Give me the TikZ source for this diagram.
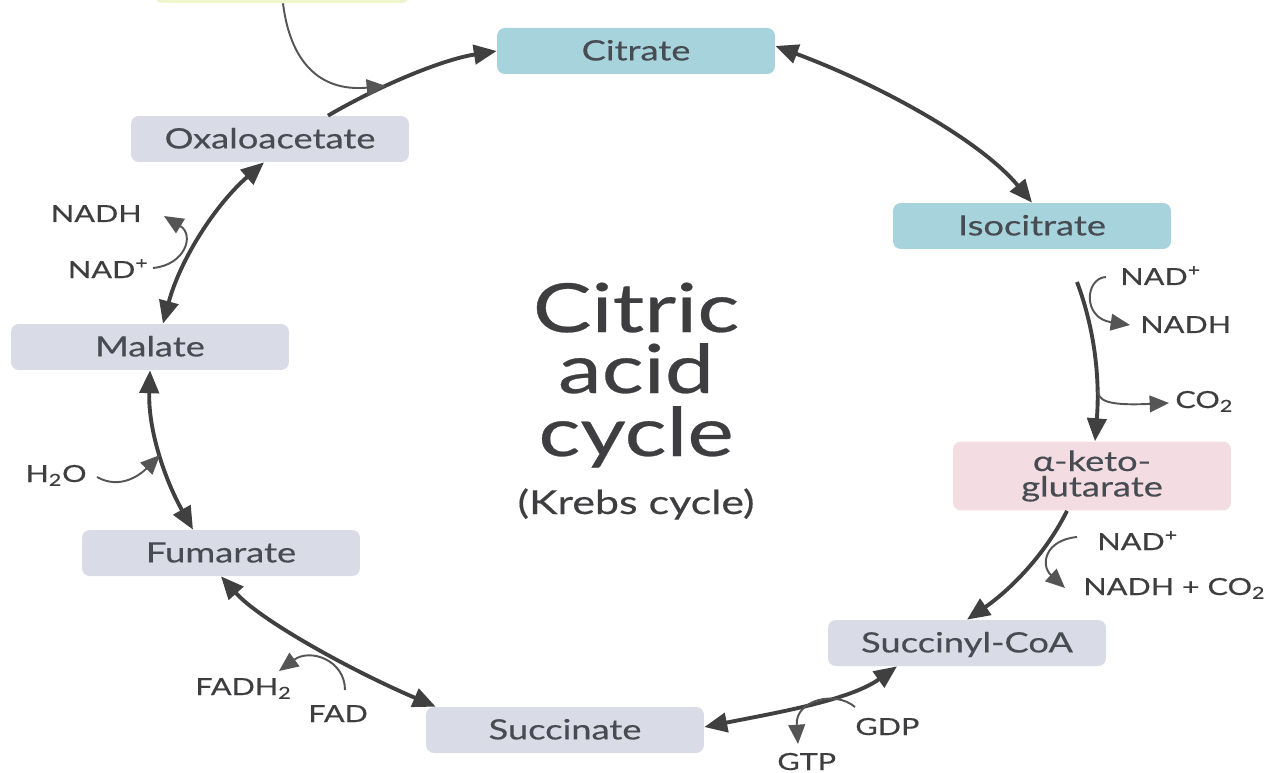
\documentclass[tikz,border=0pt]{standalone}
\usepackage{fontspec}
\setmainfont[FakeStretch=1.3, FakeBold=0.4]{Lato}
\usetikzlibrary{arrows.meta}

\definecolor{tealfill}{HTML}{A7D4DC}
\definecolor{pinkfill}{HTML}{F4DDE2}
\definecolor{grayfill}{HTML}{D9DCE6}
\definecolor{acetylfill}{HTML}{EEF5CB}
\definecolor{boxtext}{HTML}{474B52}
\definecolor{labeltext}{HTML}{3E3E40}
\definecolor{mainline}{HTML}{404040}
\definecolor{sideline}{HTML}{555555}

\newcommand\boxfont{\fontsize{15.9}{14.5}\selectfont}
\newcommand\lblfont{\fontsize{13.4}{16}\selectfont}

\begin{document}
\begin{tikzpicture}[x=0.02cm, y=-0.02cm,
  stage/.style={rounded corners=4.5pt, minimum width=5.56cm, minimum height=0.92cm,
    inner sep=0pt, font=\boxfont, text=boxtext, text height=14pt, text depth=3.3pt},
  cyc/.style={line width=2.2pt, draw=mainline,
    -{Triangle[length=13pt, width=11pt]}},
  cycboth/.style={line width=2.2pt, draw=mainline,
    {Triangle[length=13pt, width=11pt]}-{Triangle[length=13pt, width=11pt]}},
  side/.style={line width=1.1pt, draw=sideline,
    -{Triangle[length=11pt, width=9.5pt]}},
  lbl/.style={font=\lblfont, text=labeltext, inner sep=0pt},
  title/.style={text=labeltext, inner sep=0pt, anchor=base}]

\clip (0,0) rectangle (1280,773);
\fill[white] (0,0) rectangle (1280,773);

% stages of the cycle
\node[stage, fill=acetylfill, minimum width=5.1cm] (acyl) at (282,-20) {};
\node[stage, fill=tealfill] (cit) at (636,51) {Citrate};
\node[stage, fill=tealfill] (iso) at (1032,226) {Isocitrate};
\node[stage, fill=pinkfill, minimum height=1.38cm, align=center,
      text height=, text depth=] (akg) at (1092,476)
      {α-keto-\\glutarate};
\node[stage, fill=grayfill] (sca) at (967,643) {Succinyl-CoA};
\node[stage, fill=grayfill] (suc) at (565,730) {Succinate};
\node[stage, fill=grayfill] (fum) at (221,553) {Fumarate};
\node[stage, fill=grayfill] (mal) at (150,347) {Malate};
\node[stage, fill=grayfill] (oxa) at (270,139) {Oxaloacetate};

% title in the middle
\node[title, font=\fontsize{38.5}{40}\selectfont] (t1) at (636,332) {Citric};
\node[title, font=\fontsize{38.5}{40}\selectfont] (t2) at (636,393) {acid};
\node[title, font=\fontsize{38.5}{40}\selectfont] (t3) at (636,456) {cycle};
\node[title, font=\fontsize{18.8}{22}\selectfont] (t4) at (636,514) {(Krebs cycle)};

% cofactor labels
\node[lbl, anchor=base east] (nadho) at (142,222) {NADH};
\node[lbl, anchor=base east] (nadpo) at (149,278) {NAD\textsuperscript{+}};
\node[lbl, anchor=base east] (water) at (87,482) {H\textsubscript{2}O};
\node[lbl, anchor=base west] (fadh) at (195,695) {FADH\textsubscript{2}};
\node[lbl, anchor=base west] (fad) at (308,722) {FAD};
\node[lbl, anchor=base west] (gtp) at (777,770) {GTP};
\node[lbl, anchor=base west] (gdp) at (855,735) {GDP};
\node[lbl, anchor=base west] (nadhk) at (1083,595) {NADH + CO\textsubscript{2}};
\node[lbl, anchor=base west] (nadpk) at (1097,550) {NAD\textsuperscript{+}};
\node[lbl, anchor=base west] (co2i) at (1175,408) {CO\textsubscript{2}};
\node[lbl, anchor=base west] (nadhi) at (1140,333) {NADH};
\node[lbl, anchor=base west] (nadpi) at (1120,285) {NAD\textsuperscript{+}};

% free ends of the side reactions
\coordinate (acjoin) at (386,86);
\coordinate (isoout) at (1077,282);
\coordinate (co2src) at (1098,390);
\coordinate (h2ojoin) at (160,455);

% main reactions of the cycle
\draw[cyc] ([shift={(58,0)}]oxa.north) .. controls (375,88) and (440,60) .. (cit.west);
\draw[cycboth] ([shift={(0,-5)}]cit.east) .. controls (880,85) and (980,140) .. (iso.north);
\draw[cyc] (isoout) .. controls (1095,330) and (1100,380) .. ([shift={(3,0)}]akg.north);
\draw[cyc] ([shift={(-25,0)}]akg.south) .. controls (1045,555) and (1010,590) .. (sca.north);
\draw[cycboth] ([shift={(-70,0)}]sca.south) .. controls (850,700) and (780,712) .. ([shift={(0,-3)}]suc.east);
\draw[cycboth] (fum.south) .. controls (260,620) and (350,670) .. ([shift={(10,0)}]suc.north west);
\draw[cycboth] ([shift={(-28,0)}]fum.north) .. controls (165,480) and (148,430) .. (mal.south);
\draw[cycboth] ([shift={(13,0)}]mal.north) .. controls (180,260) and (215,205) .. ([shift={(-6,0)}]oxa.south);

% side reactions
\draw[side] ([shift={(1,0)}]acyl.south) .. controls (290,60) and (318,92) .. (acjoin);
\draw[side] ([shift={(-14,-8)}]nadpi.base west) .. controls (1085,278) and (1082,318) .. ([shift={(-10,-8)}]nadhi.base west);
\draw[side] (co2src) .. controls (1098,400) and (1105,406) .. ([shift={(-6,-5)}]co2i.base west);
\draw[side] ([shift={(-20,-13)}]nadpk.base west) .. controls (1045,540) and (1040,565) .. ([shift={(-18,-7)}]nadhk.base west);
\draw[side] ([shift={(0,-28)}]gdp.base west) .. controls (835,690) and (795,700) .. ([shift={(21,-26)}]gtp.base west);
\draw[side] ([shift={(37,-32)}]fad.base west) .. controls (345,660) and (310,648) .. ([shift={(84,-24)}]fadh.base west);
\draw[side] ([shift={(10,-5)}]water.base east) .. controls (120,490) and (140,475) .. (h2ojoin);
\draw[side] ([shift={(4,-10)}]nadpo.base east) .. controls (185,265) and (195,235) .. ([shift={(22,-6)}]nadho.base east);
\end{tikzpicture}
\end{document}
